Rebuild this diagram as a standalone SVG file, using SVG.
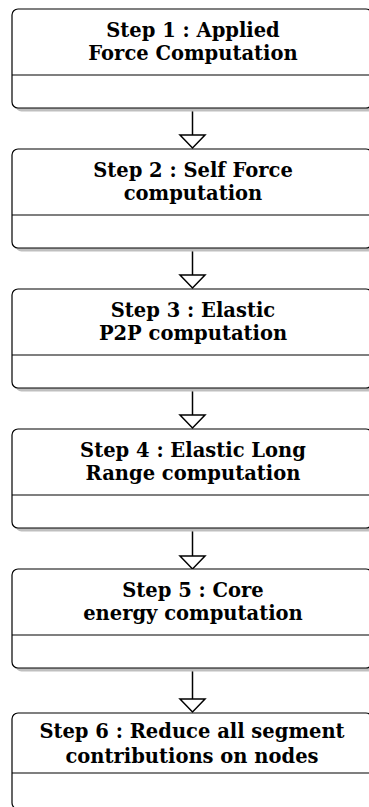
<svg xmlns="http://www.w3.org/2000/svg" width="369" height="807" viewBox="0 0 369 807">
<defs>
<style>
.box{fill:#fff;stroke:#000;stroke-width:1.2}
.shadow{fill:#bfbfbf;stroke:none}
.div{stroke:#000;stroke-width:1.2}
.t{font-family:"DejaVu Serif","Liberation Serif",serif;font-weight:bold;font-size:19.5px;text-anchor:middle;fill:#000}
.ln{stroke:#000;stroke-width:1.5;fill:none}
.ah{fill:#fff;stroke:#000;stroke-width:1.5;stroke-linejoin:miter}
</style>
</defs>
<rect width="369" height="807" fill="#fff"/>
<g id="connectors">
<line class="ln" x1="192.5" y1="108" x2="192.5" y2="135"/><polygon class="ah" points="180,135 205,135 192.5,148"/>
<line class="ln" x1="192.5" y1="248" x2="192.5" y2="275"/><polygon class="ah" points="180,275 205,275 192.5,288"/>
<line class="ln" x1="192.5" y1="388" x2="192.5" y2="415"/><polygon class="ah" points="180,415 205,415 192.5,428"/>
<line class="ln" x1="192.5" y1="528" x2="192.5" y2="556"/><polygon class="ah" points="180,556 205,556 192.5,569"/>
<line class="ln" x1="192.5" y1="668" x2="192.5" y2="699"/><polygon class="ah" points="180,699 205,699 192.5,712"/>
</g>
<g id="step1">
<rect class="shadow" x="15.5" y="12.5" width="360" height="99" rx="6"/>
<rect class="box" x="12" y="9" width="360" height="99" rx="6"/>
<line class="div" x1="12" y1="75" x2="372" y2="75"/>
<text class="t" x="193" y="37">Step 1 : Applied</text>
<text class="t" x="193" y="60">Force Computation</text>
</g>
<g id="step2">
<rect class="shadow" x="15.5" y="152.5" width="360" height="99" rx="6"/>
<rect class="box" x="12" y="149" width="360" height="99" rx="6"/>
<line class="div" x1="12" y1="215" x2="372" y2="215"/>
<text class="t" x="193" y="177">Step 2 : Self Force</text>
<text class="t" x="193" y="200">computation</text>
</g>
<g id="step3">
<rect class="shadow" x="15.5" y="292.5" width="360" height="99" rx="6"/>
<rect class="box" x="12" y="289" width="360" height="99" rx="6"/>
<line class="div" x1="12" y1="355" x2="372" y2="355"/>
<text class="t" x="193" y="317">Step 3 : Elastic</text>
<text class="t" x="193" y="340">P2P computation</text>
</g>
<g id="step4">
<rect class="shadow" x="15.5" y="432.5" width="360" height="99" rx="6"/>
<rect class="box" x="12" y="429" width="360" height="99" rx="6"/>
<line class="div" x1="12" y1="495" x2="372" y2="495"/>
<text class="t" x="193" y="457">Step 4 : Elastic Long</text>
<text class="t" x="193" y="480">Range computation</text>
</g>
<g id="step5">
<rect class="shadow" x="15.5" y="572.5" width="360" height="99" rx="6"/>
<rect class="box" x="12" y="569" width="360" height="99" rx="6"/>
<line class="div" x1="12" y1="635" x2="372" y2="635"/>
<text class="t" x="193" y="597">Step 5 : Core</text>
<text class="t" x="193" y="620">energy computation</text>
</g>
<g id="step6">
<rect class="shadow" x="15.5" y="716.5" width="360" height="96" rx="6"/>
<rect class="box" x="12" y="713" width="360" height="96" rx="6"/>
<line class="div" x1="12" y1="773" x2="372" y2="773"/>
<text class="t" x="192" y="738">Step 6 : Reduce all segment</text>
<text class="t" x="192" y="763">contributions on nodes</text>
</g>
</svg>
